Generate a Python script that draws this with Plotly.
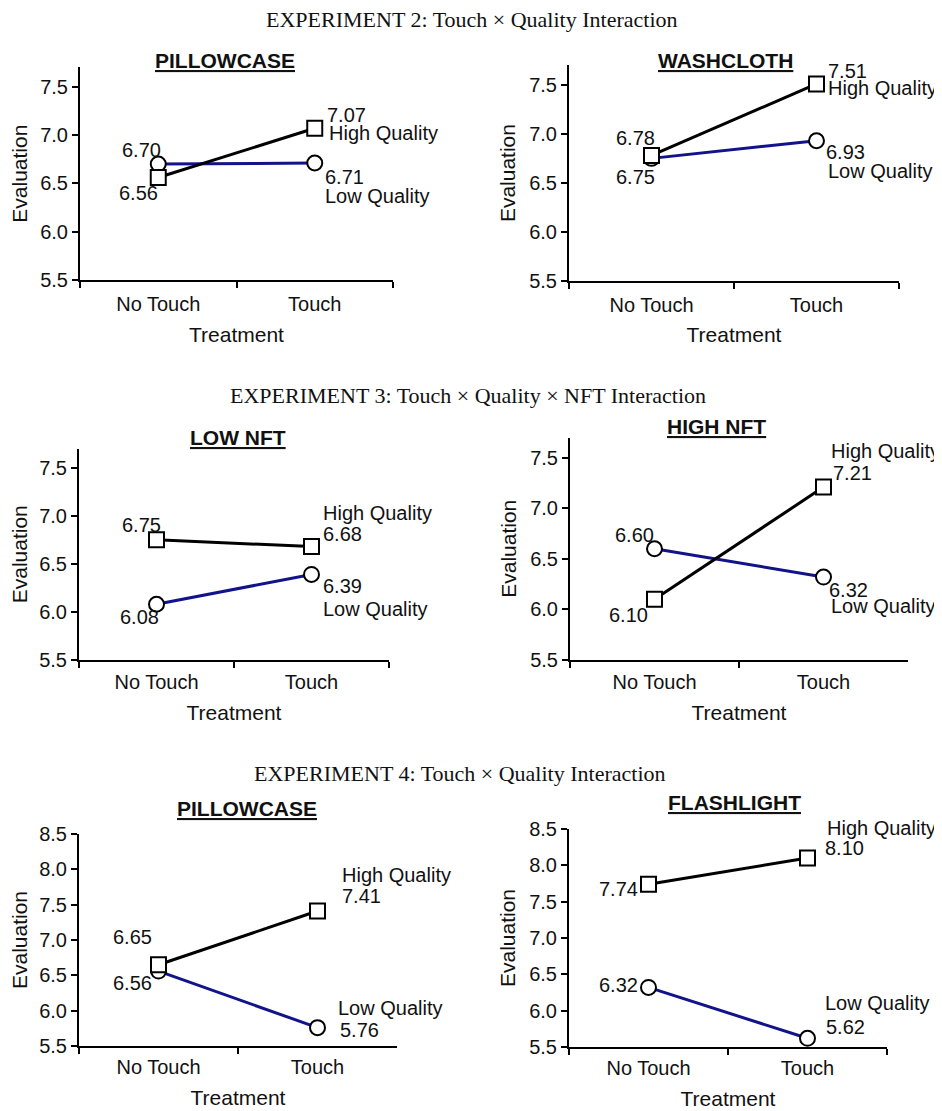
import plotly.graph_objects as go

# page body has an 8px margin; reference pixel coordinates are mapped through it
OFF = 8
W, H = 942 - OFF, 1111 - OFF

# ---------------- data ----------------
treatments = ["No Touch", "Touch"]
series_names = ["High Quality", "Low Quality"]
y_ticks_low = [5.5, 6.0, 6.5, 7.0, 7.5]
y_ticks_high = [5.5, 6.0, 6.5, 7.0, 7.5, 8.0, 8.5]

section_titles = [
    "EXPERIMENT 2: Touch × Quality Interaction",
    "EXPERIMENT 3: Touch × Quality × NFT Interaction",
    "EXPERIMENT 4: Touch × Quality Interaction",
]
panel_titles = ["PILLOWCASE", "WASHCLOTH", "LOW NFT", "HIGH NFT", "PILLOWCASE", "FLASHLIGHT"]

exp2_pillowcase_high = [6.56, 7.07]
exp2_pillowcase_low = [6.70, 6.71]
exp2_washcloth_high = [6.78, 7.51]
exp2_washcloth_low = [6.75, 6.93]
exp3_lownft_high = [6.75, 6.68]
exp3_lownft_low = [6.08, 6.39]
exp3_highnft_high = [6.10, 7.21]
exp3_highnft_low = [6.60, 6.32]
exp4_pillowcase_high = [6.65, 7.41]
exp4_pillowcase_low = [6.56, 5.76]
exp4_flashlight_high = [7.74, 8.10]
exp4_flashlight_low = [6.32, 5.62]

high_values = [exp2_pillowcase_high, exp2_washcloth_high, exp3_lownft_high,
               exp3_highnft_high, exp4_pillowcase_high, exp4_flashlight_high]
low_values = [exp2_pillowcase_low, exp2_washcloth_low, exp3_lownft_low,
              exp3_highnft_low, exp4_pillowcase_low, exp4_flashlight_low]

# ---------------- styles / layout (reference pixels) ----------------
panel_geom = [
    dict(x=(80, 393), y=(67.3, 280), rng=(5.5, 7.7), ticks=y_ticks_low),
    dict(x=(569, 899), y=(65.4, 280.7), rng=(5.5, 7.7), ticks=y_ticks_low),
    dict(x=(79, 389), y=(448.5, 660), rng=(5.5, 7.7), ticks=y_ticks_low),
    dict(x=(570, 908), y=(437.5, 660), rng=(5.5, 7.7), ticks=y_ticks_low),
    dict(x=(79, 397), y=(834, 1046), rng=(5.5, 8.5), ticks=y_ticks_high),
    dict(x=(569, 887), y=(829, 1047), rng=(5.5, 8.5), ticks=y_ticks_high),
]
panel_title_pos = [(225, 60), (725, 60), (238, 437), (716, 427), (247, 808), (734, 802)]
section_title_pos = [(472, 19), (468, 395), (460, 773)]
x_ticklabel_standoff = [5, 5, 3, 3, 2, 2]

value_label_style = [
    [[("right", 2, -15.5), ("left", 10, 13)], [("right", 5, 14), ("left", 8, -14)]],
    [[("right", 5.5, 17.5), ("left", 9, 13)], [("right", 5.5, -18.6), ("left", 7.5, -11)]],
    [[("right", 6.5, 15), ("left", 9.5, 12.5)], [("right", 4.5, -13), ("left", 9.5, -11.6)]],
    [[("right", -4.5, -15.7), ("left", 7.5, 14)], [("right", 1.5, 13.7), ("left", 3.5, -13)]],
    [[("right", -4.5, 27.7), ("left", 22.5, 15)], [("right", -4.5, -12), ("left", 20.5, -2.4)]],
    [[("right", -8.5, -4.8), ("left", 15.5, 10)], [("right", -8.5, 2.4), ("left", 16.5, 11)]],
]
name_label_style = [
    [(12, -5), (8, -33)],
    [(9, -4), (9, -30)],
    [(9.5, 33.5), (9.5, -34.6)],
    [(5, 36), (5, -29)],
    [(22.5, 36), (18.5, 19.6)],
    [(17, 30), (15.5, 35)],
]

FONT = "Liberation Sans, Arial, sans-serif"
SERIF = "Liberation Serif, Times New Roman, serif"
TXT = "#111111"
LINE_COLORS = ["#000000", "#12128a"]
SYMBOLS = ["square", "circle"]


def px_x(X):
    return (X - OFF) / W


def px_y(Y):
    return 1 - (Y - OFF) / H


fig = go.Figure()
annotations = []

for i in range(6):
    g = panel_geom[i]
    xa = "x" if i == 0 else f"x{i+1}"
    ya = "y" if i == 0 else f"y{i+1}"
    for s_idx in [1, 0]:
        vals = high_values[i] if s_idx == 0 else low_values[i]
        fig.add_trace(go.Scatter(
            x=treatments, y=vals, xaxis=xa, yaxis=ya, mode="lines",
            line=dict(color=LINE_COLORS[s_idx], width=3), showlegend=False, hoverinfo="skip"))
    for s_idx in [1, 0]:
        vals = high_values[i] if s_idx == 0 else low_values[i]
        fig.add_trace(go.Scatter(
            x=treatments, y=vals, xaxis=xa, yaxis=ya, mode="markers",
            marker=dict(symbol=SYMBOLS[s_idx], size=15, color="white",
                        line=dict(color="black", width=2)),
            showlegend=False, hoverinfo="skip"))

    xdom = [px_x(g["x"][0]), px_x(g["x"][1])]
    ydom = [px_y(g["y"][1]), px_y(g["y"][0])]
    axis_common = dict(showgrid=False, zeroline=False, showline=True, linecolor="black",
                       linewidth=2, ticks="outside", tickwidth=2, tickcolor="black",
                       automargin=False,
                       tickfont=dict(family=FONT, size=20, color=TXT), fixedrange=True)
    xkey = "xaxis" if i == 0 else f"xaxis{i+1}"
    ykey = "yaxis" if i == 0 else f"yaxis{i+1}"
    fig.update_layout(**{
        xkey: dict(axis_common, domain=xdom, anchor=ya, type="category",
                   categoryorder="array", categoryarray=treatments,
                   range=[-0.5, 1.5], tickson="boundaries", ticklen=6,
                   ticklabelstandoff=x_ticklabel_standoff[i],
                   title=dict(text="Treatment", font=dict(family=FONT, size=21, color=TXT), standoff=13)),
        ykey: dict(axis_common, domain=ydom, anchor=xa, range=list(g["rng"]),
                   tickvals=g["ticks"], tickformat=".1f", ticklen=6,
                   title=dict(text="Evaluation", font=dict(family=FONT, size=21, color=TXT), standoff=8)),
    })

    px, py = panel_title_pos[i]
    annotations.append(dict(text=f"<b><u>{panel_titles[i]}</u></b>", xref="paper", yref="paper",
                            x=px_x(px), y=px_y(py), xanchor="center", yanchor="middle",
                            showarrow=False, font=dict(family=FONT, size=21, color=TXT)))

    for s_idx in range(2):
        vals = high_values[i] if s_idx == 0 else low_values[i]
        for c_idx in range(2):
            anc, xs, ys = value_label_style[i][s_idx][c_idx]
            annotations.append(dict(text=f"{vals[c_idx]:.2f}", xref=xa, yref=ya,
                                    x=treatments[c_idx], y=vals[c_idx], xanchor=anc, yanchor="middle",
                                    xshift=xs, yshift=ys, showarrow=False,
                                    font=dict(family=FONT, size=20, color=TXT)))
        xs, ys = name_label_style[i][s_idx]
        annotations.append(dict(text=series_names[s_idx], xref=xa, yref=ya,
                                x=treatments[1], y=vals[1], xanchor="left", yanchor="middle",
                                xshift=xs, yshift=ys, showarrow=False,
                                font=dict(family=FONT, size=20, color=TXT)))

for t, (px, py) in zip(section_titles, section_title_pos):
    annotations.append(dict(text=t, xref="paper", yref="paper", x=px_x(px), y=px_y(py),
                            xanchor="center", yanchor="middle", showarrow=False,
                            font=dict(family=SERIF, size=22, color="#111111")))

fig.update_layout(width=W, height=H, margin=dict(l=0, r=0, t=0, b=0, autoexpand=False),
                  paper_bgcolor="white", plot_bgcolor="white", annotations=annotations)

fig.write_html("out.html")
